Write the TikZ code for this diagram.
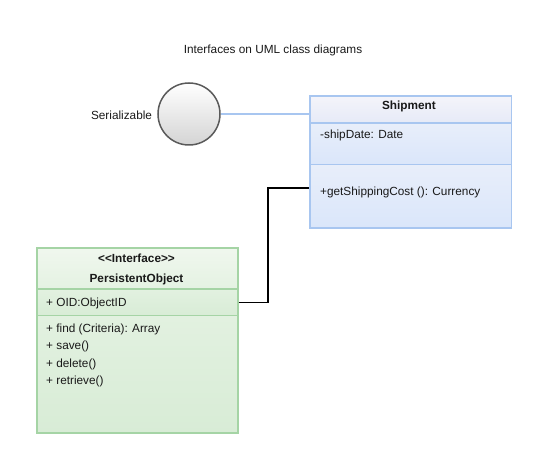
\documentclass[tikz,border=0pt]{standalone}
\usepackage{fontspec}
\setmainfont{Liberation Sans}
\usetikzlibrary{positioning}

\definecolor{shipline}{RGB}{168,198,240}
\definecolor{shiphdtop}{RGB}{244,244,250}
\definecolor{shiphdbot}{RGB}{230,234,247}
\definecolor{shiptop}{RGB}{232,238,250}
\definecolor{shipbot}{RGB}{218,230,250}
\definecolor{objline}{RGB}{165,212,165}
\definecolor{objhdtop}{RGB}{240,247,238}
\definecolor{objhdbot}{RGB}{228,242,226}
\definecolor{objtop}{RGB}{226,241,224}
\definecolor{objbot}{RGB}{216,236,214}
\definecolor{circline}{RGB}{90,90,90}
\definecolor{circbot}{RGB}{212,212,212}
\definecolor{txt}{RGB}{25,25,25}

\begin{document}
\begin{tikzpicture}[x=1pt,y=-1pt,
	every node/.style={font=\fontsize{11.8}{14}\selectfont,text=txt,inner sep=0pt},
	shipcell/.style={draw=shipline,line width=1.5pt,top color=shiptop,bottom color=shipbot,
	                 anchor=north west,minimum width=201.5pt},
	objcell/.style={draw=objline,line width=1.5pt,top color=objtop,bottom color=objbot,
	                anchor=north west,minimum width=201pt},
	member/.style={anchor=west},
	cname/.style={font=\fontsize{11.8}{14}\selectfont\bfseries}]
	
	\useasboundingbox (0,0) rectangle (550,454);
	
	\def\shipx{309}
	\def\objx{36}
	
	% The title
	\node (title) at (273,50) {Interfaces on UML class diagrams};
	
	% The interface circle and its label
	\node [circle,minimum size=62pt,draw=circline,line width=1.5pt,
	       top color=white,bottom color=circbot] (seri) at (189,114) {};
	\node [left=5pt of seri,yshift=-1pt] (serilabel) {Serializable};
	
	% The Shipment class
	\node [shipcell,minimum height=27pt,top color=shiphdtop,bottom color=shiphdbot]
	      (shiphead) at (\shipx,95.5) {};
	\node [shipcell,minimum height=41.5pt] (shipattr) at (\shipx,122.5) {};
	\node [shipcell,minimum height=63.5pt] (shipops) at (\shipx,164) {};
	\node [cname] (shipname) at (409,106) {Shipment};
	\node [member] (shipdate) at (\shipx+11,135) {-shipDate: Date};
	\node [member] (shipcost) at (\shipx+11,192) {+getShippingCost (): Currency};
	
	% The PersistentObject interface
	\node [objcell,minimum height=41pt,top color=objhdtop,bottom color=objhdbot]
	      (objhead) at (\objx,247.5) {};
	\node [objcell,minimum height=26.5pt] (objattr) at (\objx,288.5) {};
	\node [objcell,minimum height=117.5pt] (objops) at (\objx,315) {};
	\node [cname] (stereo) at (136.5,258.5) {<\kern0pt<Interface>\kern0pt>};
	\node [cname] (objname) at (136.5,279) {PersistentObject};
	\node [member] (oid) at (\objx+10,303) {+ OID:ObjectID};
	\foreach \y/\m/\t in {329/find/{+ find (Criteria): Array},346.5/save/{+ save()},
	                      364/delete/{+ delete()},381.5/retrieve/{+ retrieve()}}{
		\node [member] (op\m) at (\objx+10,\y) {\t};
	}
	
	% The links
	\draw [shipline,line width=1.3pt] (seri.east) -- (seri.east -| shiphead.west);
	\coordinate (elbow) at (268,188);
	\draw [black,line width=1.6pt] (objattr.east) -| (elbow) -- (elbow -| shipops.west);
	
\end{tikzpicture}
\end{document}
